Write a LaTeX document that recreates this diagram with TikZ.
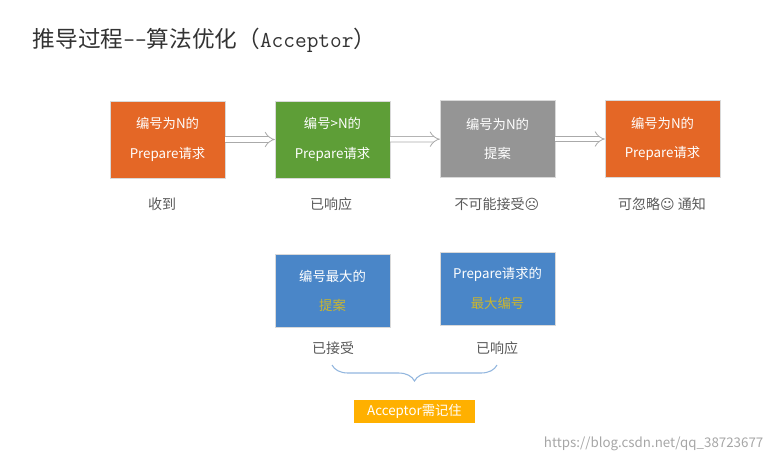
\documentclass[tikz,border=0pt]{standalone}
\usepackage{fontspec}
\setmainfont{Noto Sans CJK SC}
\newfontfamily\djv{DejaVu Sans}
\usetikzlibrary{arrows.meta,decorations.pathreplacing}
\definecolor{orng}{HTML}{E46726}
\definecolor{grn}{HTML}{5E9E37}
\definecolor{gry}{HTML}{959595}
\definecolor{blu}{HTML}{4A86C8}
\definecolor{gold}{HTML}{FFB000}
\definecolor{ylw}{HTML}{C9B530}
\definecolor{txt}{HTML}{595959}
\begin{document}
\begin{tikzpicture}[x=0.75pt,y=-0.75pt,
  box/.style={draw=white!85!black,minimum width=86pt,minimum height=58pt,inner sep=0pt,text=white,font=\fontsize{10}{22}\selectfont,align=center},
  lab/.style={text=txt,font=\fontsize{10.5}{12}\selectfont},
  harr/.style={draw=gry!80,double=white,double distance=3.5pt,line width=0.6pt,-{Implies[length=5pt]}}]
\useasboundingbox (0,0) rectangle (777,464);
\node[anchor=west,text=black!80,font=\fontsize{17}{20}\selectfont] (title) at (28,40) {推导过程\texttt{--}算法优化（\texttt{Acceptor}）};
\node[box,fill=orng] (b1) at (167.5,139.5) {编号为N的\\Prepare请求};
\node[box,fill=grn] (b2) at (332.5,139.5) {编号>N的\\Prepare请求};
\node[box,fill=gry] (b3) at (497.5,139) {编号为N的\\提案};
\node[box,fill=orng] (b4) at (662.5,139) {编号为N的\\Prepare请求};
\draw[harr] (b1) -- (b2);
\draw[harr] (b2) -- (b3);
\draw[harr] (b3) -- (b4);
\node[lab] (l1) at (162,204) {收到};
\node[lab] (l2) at (331,204) {已响应};
\node[lab] (l3) at (497,204) {不可能接受{\djv ☹}};
\node[lab] (l4) at (662,204) {可忽略{\djv ☺} 通知};
\node[box,fill=blu,minimum height=55pt] (b5) at (332.5,291) {编号最大的\\\textcolor{ylw}{提案}};
\node[box,fill=blu,minimum height=55pt] (b6) at (497.5,288.5) {Prepare请求的\\\textcolor{ylw}{最大编号}};
\node[lab] (l5) at (333,348) {已接受};
\node[lab] (l6) at (497,348) {已响应};
\coordinate (bl) at (332,365);
\coordinate (br) at (497,365);
\draw[blu!60,line width=0.8pt,decorate,decoration={brace,mirror,amplitude=12pt}] (bl) -- (br);
\node[fill=gold,text=white,minimum width=91pt,minimum height=17pt,inner sep=0pt,font=\fontsize{10}{12}\selectfont] (acc) at (414.5,411.5) {Acceptor需记住};
\node[anchor=east,text=black!35,font=\fontsize{10}{12}\selectfont] (wm) at (768,444) {https://blog.csdn.net/qq\_38723677};
\end{tikzpicture}
\end{document}
